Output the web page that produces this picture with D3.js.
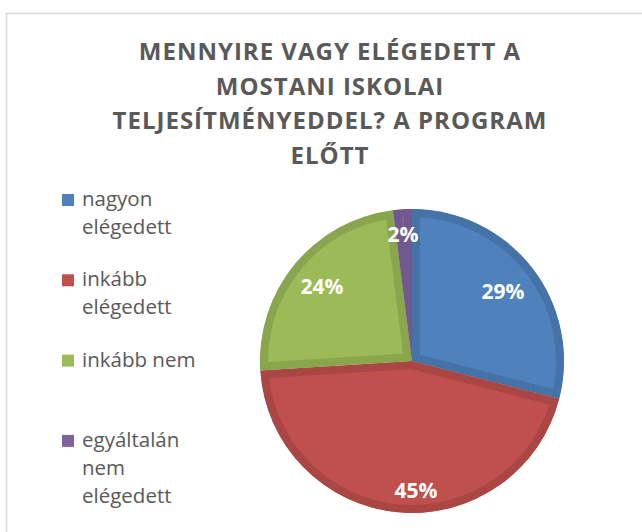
<!DOCTYPE html>
<html>
<head>
<meta charset="utf-8">
<script src="https://cdn.jsdelivr.net/npm/d3@7"></script>
<style>
    body { margin: 0; background: #fff; }
    svg { display: block; }
</style>
</head>
<body>
<div id="chart"></div>
<script>
var titleLines = ["MENNYIRE VAGY ELÉGEDETT A", "MOSTANI ISKOLAI", "TELJESÍTMÉNYEDDEL? A PROGRAM", "ELŐTT"];
var categories = ["nagyon elégedett", "inkább elégedett", "inkább nem", "egyáltalán nem elégedett"];
var legendLines = [["nagyon", "elégedett"], ["inkább", "elégedett"], ["inkább nem"], ["egyáltalán", "nem", "elégedett"]];
var values = [29, 45, 24, 2];
var fillColors = ["#4F81BD", "#C0504D", "#9BBB59", "#8064A2"];
var edgeColors = ["#4572A7", "#AA4643", "#89A54E", "#71588F"];

var width = 642, height = 532;
var cx = 412, cy = 361, radius = 152;

var svg = d3.select("#chart").append("svg")
    .attr("width", width).attr("height", height);

// chart frame
svg.append("rect")
    .attr("x", 6.5).attr("y", 13.5)
    .attr("width", 660).attr("height", 560)
    .attr("fill", "#fff").attr("stroke", "#d9d9d9").attr("stroke-width", 1.5);

// title
svg.append("g").selectAll("text")
    .data(titleLines)
    .join("text")
    .attr("x", 330)
    .attr("y", function (d, i) { return 60 + i * 34.5; })
    .attr("text-anchor", "middle")
    .attr("font-family", "'Open Sans', sans-serif")
    .attr("font-weight", "bold")
    .attr("font-size", 24)
    .attr("letter-spacing", 1)
    .attr("fill", "#595959")
    .text(function (d) { return d; });

// legend
var legend = svg.append("g").selectAll("g")
    .data(categories)
    .join("g")
    .attr("transform", function (d, i) { return "translate(62," + (206 + i * 80.3) + ")"; });

legend.append("rect")
    .attr("x", 0).attr("y", -12)
    .attr("width", 12).attr("height", 12)
    .attr("fill", function (d, i) { return fillColors[i]; });

legend.append("text")
    .attr("font-family", "'Open Sans', sans-serif")
    .attr("font-size", 20.5)
    .attr("fill", "#595959")
    .selectAll("tspan")
    .data(function (d, i) { return legendLines[i]; })
    .join("tspan")
    .attr("x", 20)
    .attr("y", function (d, j) { return j * 28; })
    .text(function (d) { return d; });

// pie
var pie = d3.pie().sort(null).value(function (d) { return d; });
var arcs = pie(values);
var arc = d3.arc().innerRadius(0).outerRadius(radius);

var pieG = svg.append("g").attr("transform", "translate(" + cx + "," + cy + ")");
var defs = svg.append("defs");

defs.selectAll("clipPath")
    .data(arcs)
    .join("clipPath")
    .attr("id", function (d, i) { return "slice" + i; })
    .append("path")
    .attr("d", arc);

pieG.selectAll("path.slice")
    .data(arcs)
    .join("path")
    .attr("class", "slice")
    .attr("d", arc)
    .attr("fill", function (d, i) { return fillColors[i]; })
    .attr("stroke", function (d, i) { return edgeColors[i]; })
    .attr("stroke-width", 16)
    .attr("stroke-linejoin", "round")
    .attr("clip-path", function (d, i) { return "url(#slice" + i + ")"; });

// label offsets from the pie centre
var labelPos = [[91, -70], [4, 129], [-90, -75], [-9, -127]];

pieG.selectAll("text.label")
    .data(arcs)
    .join("text")
    .attr("class", "label")
    .attr("transform", function (d, i) {
        return "translate(" + labelPos[i][0] + "," + labelPos[i][1] + ")";
    })
    .attr("text-anchor", "middle")
    .attr("dy", "0.36em")
    .attr("font-family", "'Open Sans', sans-serif")
    .attr("font-weight", "bold")
    .attr("font-size", 21)
    .attr("fill", "#fff")
    .text(function (d) { return d.data + "%"; });
</script>
</body>
</html>
